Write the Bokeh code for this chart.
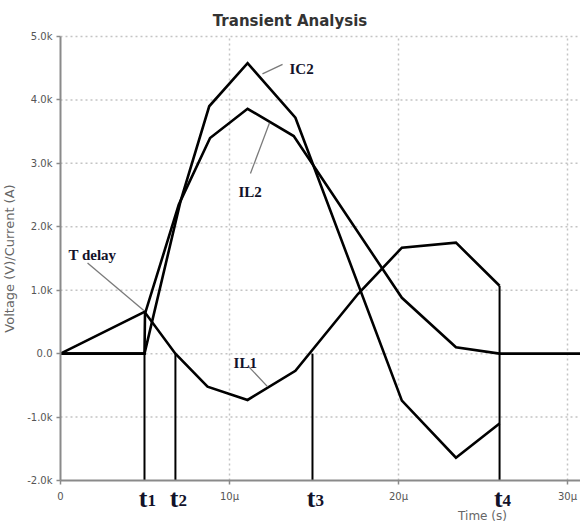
from bokeh.plotting import figure
from bokeh.models import Range1d, Label, FixedTicker
from bokeh.embed import file_html
from bokeh.resources import INLINE

# Time in microseconds, currents/voltages in thousands (k)
IL1_TIME = [0.0, 4.97, 6.80, 8.70, 11.07, 13.90, 17.60, 20.20, 23.40, 25.98]
IL1_VALUE = [0.0, 0.66, 0.00, -0.52, -0.73, -0.27, 0.94, 1.67, 1.75, 1.07]

IC2_TIME = [0.0, 4.97, 7.10, 8.80, 11.07, 13.90, 20.20, 23.40, 25.98]
IC2_VALUE = [0.0, 0.00, 2.40, 3.90, 4.58, 3.72, -0.74, -1.64, -1.10]

IL2_TIME = [0.0, 4.97, 5.00, 7.00, 8.85, 11.07, 13.80, 20.20, 23.40, 25.98, 31.00]
IL2_VALUE = [0.0, 0.00, 0.63, 2.35, 3.40, 3.86, 3.43, 0.88, 0.10, 0.00, 0.00]

# switching instants and the height each marker line reaches
MARK_NAMES = ["1", "2", "3", "4"]
MARK_TIME = [4.97, 6.80, 14.91, 25.98]
MARK_TOP = [0.0, 0.0, 0.0, 1.07]

X_TICKS = [0, 10, 20, 30]
X_TICK_LABELS = ["0", "10\u00b5", "20\u00b5", "30\u00b5"]
Y_TICKS = [-2, -1, 0, 1, 2, 3, 4, 5]
Y_TICK_LABELS = ["-2.0k", "-1.0k", "0.0", "1.0k", "2.0k", "3.0k", "4.0k", "5.0k"]

# plotting window of the axes
X_MIN, X_MAX = 0.0, 30.77
Y_MIN, Y_MAX = -2.0, 5.0

# page geometry: pixels per unit and margins around the axes box
W, H = 580, 523
PX_PER_US = 16.9
PX_PER_K = 63.43
LEFT, TOP = 60, 36

# the frame spans the whole canvas so captions outside the axes box stay visible
x_start = X_MIN - LEFT / PX_PER_US
x_end = x_start + W / PX_PER_US
y_end = Y_MAX + TOP / PX_PER_K
y_start = y_end - H / PX_PER_K

p = figure(width=W, height=H, output_backend="svg", toolbar_location=None,
           x_range=Range1d(x_start, x_end), y_range=Range1d(y_start, y_end),
           min_border=0)
p.outline_line_color = None
p.background_fill_color = "white"
p.border_fill_color = "white"
p.grid.visible = False

axis_grey = "#8a8a8a"
for ax in (p.xaxis[0], p.yaxis[0]):
    ax.axis_line_color = axis_grey
    ax.axis_line_width = 2
    ax.major_tick_line_color = axis_grey
    ax.major_tick_line_width = 1.5
    ax.major_tick_out = 4
    ax.major_tick_in = 0
    ax.minor_tick_line_color = None
    ax.major_label_text_font = "DejaVu Sans"
    ax.major_label_text_font_size = "10px"
    ax.major_label_text_color = "#555555"

p.xaxis.fixed_location = Y_MIN
p.xaxis.bounds = (X_MIN, X_MAX)
p.xaxis.ticker = FixedTicker(ticks=X_TICKS)
p.xaxis.major_label_overrides = {k: v for k, v in zip(X_TICKS, X_TICK_LABELS)}
p.xaxis.major_label_standoff = 6

p.yaxis.fixed_location = X_MIN
p.yaxis.bounds = (Y_MIN, Y_MAX)
p.yaxis.ticker = FixedTicker(ticks=Y_TICKS)
p.yaxis.major_label_overrides = {k: v for k, v in zip(Y_TICKS, Y_TICK_LABELS)}
p.yaxis.major_label_standoff = 4
p.yaxis.axis_label = "Voltage (V)/Current (A)"
p.yaxis.axis_label_text_font = "DejaVu Sans"
p.yaxis.axis_label_text_font_size = "13px"
p.yaxis.axis_label_text_font_style = "normal"
p.yaxis.axis_label_text_color = "#666666"
p.yaxis.axis_label_standoff = 7

# dotted grid inside the axes box
grid_style = dict(line_color="#c4c4c4", line_dash="2 3", line_width=1.5, level="underlay")
gx = [t for t in X_TICKS if t > X_MIN]
p.segment(x0=gx, y0=[Y_MIN] * len(gx), x1=gx, y1=[Y_MAX] * len(gx), **grid_style)
gy = [v for v in Y_TICKS if v > Y_MIN]
p.segment(x0=[X_MIN] * len(gy), y0=gy, x1=[X_MAX] * len(gy), y1=gy, **grid_style)

# waveforms
for xs, ys in ((IL1_TIME, IL1_VALUE), (IC2_TIME, IC2_VALUE), (IL2_TIME, IL2_VALUE)):
    p.line(xs, ys, line_color="black", line_width=2.6, line_join="miter")

# vertical markers at the switching instants
p.segment(x0=MARK_TIME, y0=[Y_MIN] * len(MARK_TIME), x1=MARK_TIME, y1=MARK_TOP,
          line_color="black", line_width=2)

# leader lines from the captions to their curves
pointer_grey = "#7a7a7a"
p.segment(x0=[1.6, 11.95, 11.24, 11.12], y0=[1.43, 4.41, 2.84, -0.20],
          x1=[4.93, 13.14, 12.37, 12.25], y1=[0.68, 4.56, 3.64, -0.52],
          line_color=pointer_grey, line_width=1.3)

ink = "#12122a"
serif = "Liberation Serif"
captions = [("T delay", 0.47, 1.56), ("IC2", 13.55, 4.48),
            ("IL2", 10.53, 2.55), ("IL1", 10.24, -0.14)]
for txt, x, y in captions:
    p.add_layout(Label(x=x, y=y, text=txt, text_font=serif, text_font_size="15px",
                       text_font_style="bold", text_color=ink,
                       text_baseline="alphabetic", text_align="left"))

# t1..t4 captions under the time axis
T_BASE = -2.29
for name, tx in zip(MARK_NAMES, MARK_TIME):
    p.add_layout(Label(x=tx, y=T_BASE, x_offset=3, text="t", text_font=serif,
                       text_font_size="26px", text_font_style="bold", text_color=ink,
                       text_align="right", text_baseline="alphabetic"))
    p.add_layout(Label(x=tx, y=T_BASE, x_offset=3, y_offset=-2, text=name,
                       text_font=serif, text_font_size="17px", text_font_style="bold",
                       text_color=ink, text_align="left", text_baseline="alphabetic"))

p.add_layout(Label(x=24.97, y=-2.56, text="Time (s)", text_font="DejaVu Sans",
                   text_font_size="12px", text_color="#666666",
                   text_align="center", text_baseline="middle"))
p.add_layout(Label(x=13.58, y=5.25, text="Transient Analysis", text_font="DejaVu Sans",
                   text_font_size="15px", text_font_style="bold", text_color="#333333",
                   text_align="center", text_baseline="middle"))

open("out.html", "w").write(file_html(p, INLINE))
